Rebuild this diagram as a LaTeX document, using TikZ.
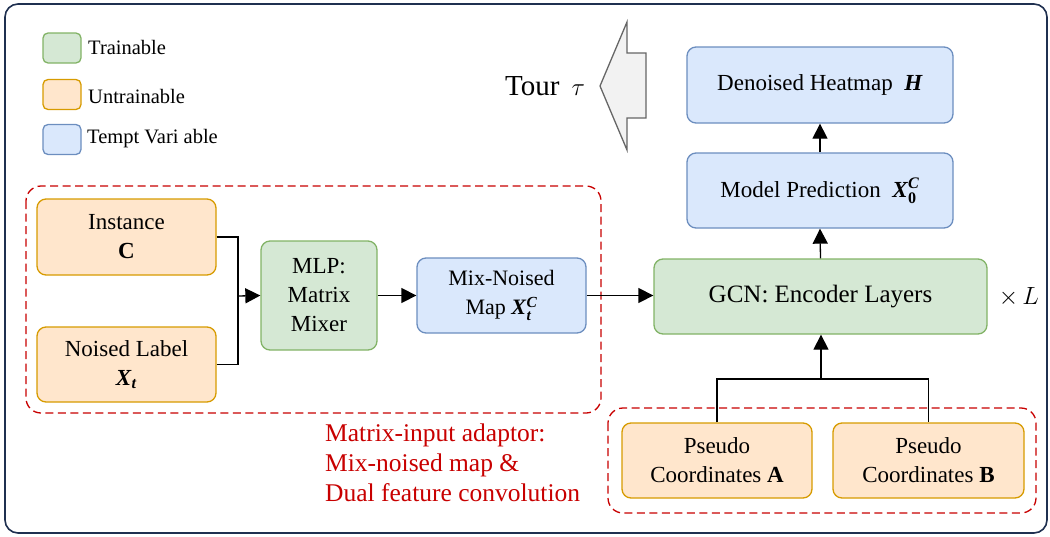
\documentclass[tikz,border=0pt]{standalone}
\usepackage{amsmath}
\usepackage{fontspec}
\setmainfont{LiberationSerif}[
  Extension=.ttf,
  UprightFont=*-Regular,
  BoldFont=*-Bold,
  ItalicFont=*-Italic,
  BoldItalicFont=*-BoldItalic]
\usetikzlibrary{arrows.meta}

\definecolor{trainfill}{HTML}{D5E8D4}
\definecolor{trainline}{HTML}{82B366}
\definecolor{fixfill}{HTML}{FFE6CC}
\definecolor{fixline}{HTML}{D79B00}
\definecolor{varfill}{HTML}{DAE8FC}
\definecolor{varline}{HTML}{6C8EBF}
\definecolor{adapt}{HTML}{C80000}
\definecolor{frame}{HTML}{1F3050}
\definecolor{tourfill}{HTML}{F2F2F2}
\definecolor{tourline}{HTML}{666666}

% bold italic matrix symbol with optional scripts
\newcommand{\bmat}[2]{\textbf{\textit{X}}\ensuremath{^{\textbf{\textit{#1}}}_{\textbf{#2}}}}

\tikzset{
  box/.style={rounded corners=9pt, line width=1.3pt, align=center,
    font=\fontsize{23}{29}\selectfont, inner sep=0pt},
  trainbox/.style={box, fill=trainfill, draw=trainline},
  fixbox/.style={box, fill=fixfill, draw=fixline},
  varbox/.style={box, fill=varfill, draw=varline},
  legendbox/.style={rounded corners=5pt, line width=1.3pt, minimum width=38pt,
    minimum height=30pt, inner sep=0pt},
  legendtext/.style={anchor=west, font=\fontsize{20.5}{22}\selectfont, inner sep=0pt},
  link/.style={line width=1.3pt, draw=black},
  arr/.style={link, -{Triangle[length=15pt,width=15pt]}},
  region/.style={draw=adapt, line width=1.3pt, dash pattern=on 8pt off 4.5pt,
    rounded corners=15pt},
}

\begin{document}
\begin{tikzpicture}[x=1pt, y=-1pt]
\useasboundingbox (0,0) rectangle (1050,536);

% outer frame
\draw[frame, line width=1.6pt, rounded corners=13pt] (5,4) rectangle (1047,533);

% legend
\node[legendbox, fill=trainfill, draw=trainline] (lg1) at (62,48) {};
\node[legendbox, fill=fixfill, draw=fixline] (lg2) at (62,94.5) {};
\node[legendbox, fill=varfill, draw=varline] (lg3) at (62,139.5) {};
\node[legendtext] (lt1) at (88,47) {Trainable};
\node[legendtext] (lt2) at (88,96) {Untrainable};
\node[legendtext] (lt3) at (87,139) {Tempt Vari able};

% output tour arrow
\draw[fill=tourfill, draw=tourline, line width=1.3pt]
  (600,86) -- (627,22) -- (627,53) -- (646,53) -- (646,118) -- (627,118) -- (627,150) -- cycle;
\node[font=\fontsize{29}{32}\selectfont, inner sep=0pt] (tour) at (545,86) {Tour\,\ $\tau$};

% adaptor regions
\draw[region] (26,186) rectangle (601,413);
\draw[region] (608,408) rectangle (1036,513);

% blocks
\node[fixbox, minimum width=179pt, minimum height=76pt] (inst) at (126.5,237)
  {Instance\\\textbf{C}};
\node[fixbox, minimum width=179pt, minimum height=75pt] (noise) at (126.5,364.5)
  {Noised Label\\\textbf{\textit{X}}\ensuremath{_{\textbf{\textit{t}}}}};
\node[trainbox, minimum width=116pt, minimum height=109pt] (mlp) at (319,295.5)
  {MLP:\\Matrix\\Mixer};
\node[varbox, minimum width=169pt, minimum height=75pt] (mix) at (501.5,295.5)
  {\fontsize{22}{29}\selectfont Mix-Noised\\\fontsize{22}{29}\selectfont Map
   \textbf{\textit{X}}\ensuremath{^{\textbf{\textit{C}}}_{\textbf{\textit{t}}}}};
\node[trainbox, minimum width=333pt, minimum height=75pt,
  font=\fontsize{25}{29}\selectfont] (gcn) at (820.5,296.5) {GCN: Encoder Layers};
\node[varbox, minimum width=266pt, minimum height=75pt] (pred) at (820,190.5)
  {Model Prediction\ \ \bmat{C}{0}};
\node[varbox, minimum width=266pt, minimum height=76pt] (heat) at (820,85)
  {Denoised Heatmap\ \ \textbf{\textit{H}}};
\node[fixbox, minimum width=190pt, minimum height=75pt] (pa) at (717,460.5)
  {Pseudo\\Coordinates \textbf{A}};
\node[fixbox, minimum width=191pt, minimum height=75pt] (pb) at (928.5,460.5)
  {Pseudo\\Coordinates \textbf{B}};

\node[font=\fontsize{28}{30}\selectfont, inner sep=0pt] (rep) at (1019,297)
  {$\times\, L$};

\node[anchor=north west, align=left, text=adapt, inner sep=0pt,
  font=\fontsize{25.5}{30}\selectfont] (note) at (325,424)
  {Matrix-input adaptor:\\Mix-noised map \&\\Dual feature convolution};

% connectors
\coordinate (jin) at (238,296);
\coordinate (jpc) at (821,379);
\draw[link] (inst.east) -| (jin);
\draw[link] (noise.east) -| (jin);
\draw[arr] (jin) -- (mlp.west);
\draw[arr] (mlp.east) -- (mix.west);
\draw[arr] (mix.east) -- (mix.east -| gcn.west);
\draw[link] (pa.north) |- (jpc) -| (pb.north);
\draw[arr] (jpc) -- (jpc |- gcn.south);
\draw[arr] (gcn.north) -- (pred.south);
\draw[arr] (pred.north) -- (heat.south);
\end{tikzpicture}
\end{document}
